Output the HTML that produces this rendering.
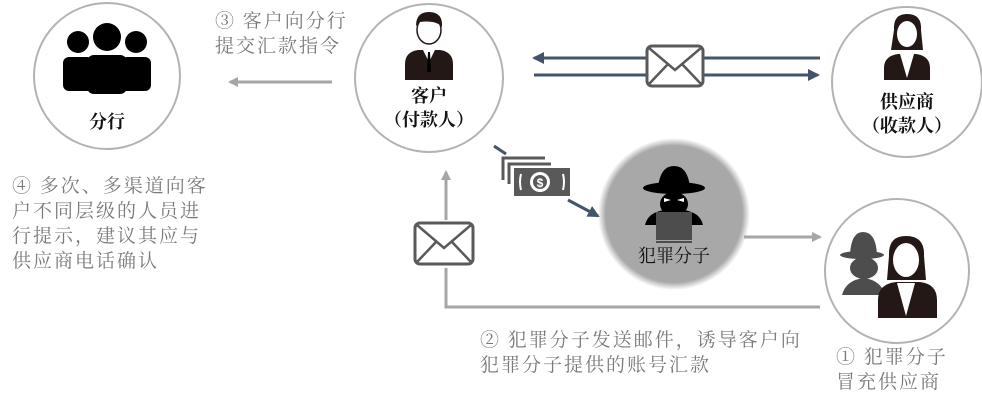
<!DOCTYPE html>
<html><head><meta charset="utf-8"><style>
html,body{margin:0;padding:0;background:#fff;width:982px;height:405px;overflow:hidden}
svg{display:block}
text{font-family:"Liberation Serif","Noto Serif CJK SC",serif}
.g{fill:#7a7a7a;font-size:19px;letter-spacing:2px}
.b{fill:#111;font-size:18px;text-anchor:middle;font-weight:bold}
</style></head><body>
<svg width="982" height="405" viewBox="0 0 982 405" xmlns="http://www.w3.org/2000/svg">
<defs>
<marker id="ag" markerWidth="10" markerHeight="10" refX="8" refY="5" orient="auto" markerUnits="userSpaceOnUse"><path d="M0,0 L10,5 L0,10 z" fill="#a6a6a6"/></marker>
<marker id="ab" markerWidth="12" markerHeight="12" refX="10" refY="6" orient="auto" markerUnits="userSpaceOnUse"><path d="M0,0 L12,6 L0,12 z" fill="#44546a"/></marker>
<radialGradient id="gc"><stop offset="0.9" stop-color="#a8a8a8"/><stop offset="1" stop-color="#a8a8a8" stop-opacity="0"/></radialGradient>
</defs>
<!-- circles -->
<circle cx="107" cy="76" r="73" fill="none" stroke="#b3b3b3" stroke-width="2"/>
<circle cx="429" cy="78" r="74" fill="none" stroke="#b3b3b3" stroke-width="2"/>
<circle cx="907" cy="82" r="75" fill="none" stroke="#b3b3b3" stroke-width="2"/>
<circle cx="674" cy="214" r="76" fill="url(#gc)"/>
<circle cx="897" cy="271" r="72" fill="none" stroke="#b3b3b3" stroke-width="2"/>

<!-- bank people icon -->
<g fill="#000">
<circle cx="78" cy="42" r="11"/><circle cx="136" cy="42" r="11"/><circle cx="107" cy="37" r="14"/>
<rect x="63" y="57" width="30" height="34" rx="6"/><rect x="121" y="57" width="30" height="34" rx="6"/>
<rect x="87" y="55" width="40" height="39" rx="7"/>
</g>
<text class="b" x="107" y="128">分行</text>

<!-- customer icon -->
<g>
<path d="M405,80 L405,64 Q405,52 418,50 L440,50 Q453,52 453,64 L453,80 z" fill="#231815"/>
<ellipse cx="429" cy="30" rx="12" ry="14" fill="#fff" stroke="#231815" stroke-width="1.5"/>
<path d="M416,26 Q416,12 429,12 Q443,12 442,27 Q436,20 420,22 z" fill="#231815"/>
<path d="M423,50 L429,62 L435,50 z" fill="#fff"/><path d="M428,52 L430,52 L431,72 L427,72 z" fill="#000"/>
</g>
<text class="b" x="429" y="102">客户</text>
<text class="b" x="429" y="126">（付款人）</text>

<!-- supplier icon -->
<g>
<path d="M884,80 L884,68 Q884,56 898,54 L916,54 Q930,56 930,68 L930,80 z" fill="#231815"/>
<path d="M894,30 Q893,14 907,14 Q922,14 921,30 L923,50 L891,50 z" fill="#231815"/>
<ellipse cx="907" cy="34" rx="10" ry="13" fill="#fff"/>
<path d="M900,54 L907,78 L914,54 z" fill="#fff"/>
</g>
<text class="b" x="907" y="108">供应商</text>
<text class="b" x="907" y="132">（收款人）</text>

<!-- criminal icon -->
<g>
<ellipse cx="674" cy="188" rx="31" ry="6" fill="#000"/>
<path d="M658,188 Q660,166 674,166 Q688,166 690,188 z" fill="#000"/>
<ellipse cx="674" cy="204" rx="14" ry="12" fill="#000"/>
<path d="M664,198 L671,200 L664,202 z M684,198 L677,200 L684,202 z" fill="#fff"/>
<path d="M645,225 Q648,212 665,210 L683,210 Q700,212 703,225 z" fill="#000"/>
<rect x="656" y="212" width="36" height="28" fill="#4d4d4d"/>
<rect x="656" y="241" width="36" height="2" fill="#4d4d4d"/>
</g>
<text class="b" x="674" y="262" style="font-weight:normal;fill:#111">犯罪分子</text>

<!-- impostor icon -->
<g>
<ellipse cx="862" cy="255" rx="22" ry="4" fill="#4d4d4d"/>
<path d="M850,255 Q851,232 863,232 Q876,232 877,255 z" fill="#4d4d4d"/>
<ellipse cx="864" cy="268" rx="14" ry="11" fill="#4d4d4d"/>
<path d="M842,295 Q846,280 864,278 Q880,280 886,295 z" fill="#4d4d4d"/>
<path d="M878,318 L878,300 Q878,284 896,282 L920,282 Q937,284 937,300 L937,318 z" fill="#231815"/>
<path d="M889,256 Q888,236 906,236 Q925,236 924,256 L926,280 L887,280 z" fill="#231815"/>
<ellipse cx="906" cy="260" rx="13" ry="17" fill="#fff"/>
<path d="M897,283 L906,316 L915,283 z" fill="#fff"/>
</g>

<!-- arrow 3 -->
<line x1="332" y1="82" x2="230" y2="82" stroke="#a6a6a6" stroke-width="3" marker-end="url(#ag)"/>
<!-- email arrows -->
<line x1="820" y1="58" x2="534" y2="58" stroke="#44546a" stroke-width="3" marker-end="url(#ab)"/>
<line x1="534" y1="75" x2="818" y2="75" stroke="#44546a" stroke-width="3" marker-end="url(#ab)"/>
<rect x="647" y="46" width="56" height="40" rx="5" fill="#fff" stroke="#595959" stroke-width="3"/>
<path d="M649,48 L675,70 L701,48 M649,84 L668,64 M701,84 L682,64" fill="none" stroke="#595959" stroke-width="2.5"/>

<!-- money diagonal -->
<line x1="494" y1="146" x2="506" y2="154" stroke="#44546a" stroke-width="3"/>
<line x1="568" y1="200" x2="598" y2="216" stroke="#44546a" stroke-width="3" marker-end="url(#ab)"/>
<g fill="none" stroke="#595959" stroke-width="3">
<path d="M503,180 L503,158 L545,158"/><path d="M509,184 L509,164 L551,164"/>
</g>
<rect x="514" y="168" width="56" height="28" fill="#595959"/>
<circle cx="540" cy="182" r="10" fill="#fff"/><circle cx="540" cy="182" r="7" fill="#595959"/>
<text x="540" y="187" text-anchor="middle" style="font-family:'Liberation Sans',sans-serif;font-size:12px;font-weight:bold;fill:#fff">$</text>
<path d="M521,174 Q519,182 521,190 M563,174 Q565,182 563,190" stroke="#fff" stroke-width="2" fill="none"/>

<!-- criminal to impostor -->
<line x1="744" y1="237" x2="820" y2="237" stroke="#a6a6a6" stroke-width="3" marker-end="url(#ag)"/>
<!-- bottom path -->
<polyline points="820,307 446,307 446,268" fill="none" stroke="#a6a6a6" stroke-width="3"/>
<line x1="446" y1="220" x2="446" y2="172" stroke="#a6a6a6" stroke-width="3" marker-end="url(#ag)"/>
<rect x="415" y="223" width="58" height="41" rx="5" fill="#fff" stroke="#595959" stroke-width="3"/>
<path d="M417,225 L444,248 L471,225 M417,262 L436,242 M471,262 L452,242" fill="none" stroke="#595959" stroke-width="2.5"/>

<!-- texts -->
<text class="g" x="215" y="27">③ 客户向分行</text>
<text class="g" x="215" y="52">提交汇款指令</text>
<text class="g" x="12" y="192">④ 多次、多渠道向客</text>
<text class="g" x="12" y="217">户不同层级的人员进</text>
<text class="g" x="12" y="242">行提示，建议其应与</text>
<text class="g" x="12" y="267">供应商电话确认</text>
<text class="g" x="480" y="346">② 犯罪分子发送邮件，诱导客户向</text>
<text class="g" x="480" y="371">犯罪分子提供的账号汇款</text>
<text class="g" x="836" y="363">① 犯罪分子</text>
<text class="g" x="836" y="388">冒充供应商</text>
</svg>
</body></html>
